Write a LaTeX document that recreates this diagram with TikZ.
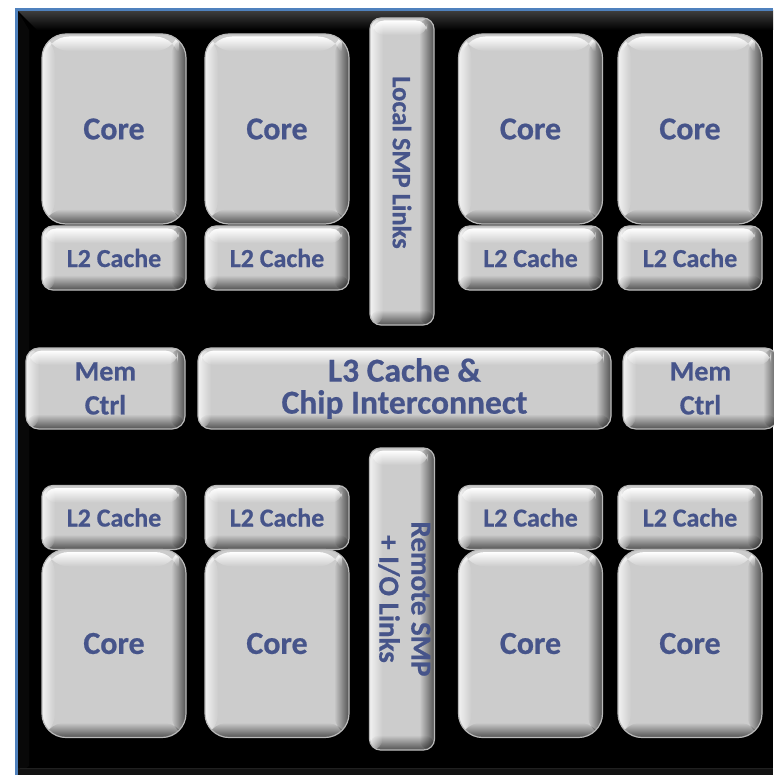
\documentclass[tikz,border=0pt]{standalone}
\usepackage{fontspec}
\setmainfont{Carlito}[BoldFeatures={FakeBold=0.6}]
\usetikzlibrary{fadings}
\definecolor{txt}{RGB}{70,84,138}
\definecolor{face}{RGB}{204,204,204}
\definecolor{frameblue}{RGB}{79,129,189}
\tikzset{
  chip/.style={rectangle, rounded corners=#1, fill=face, draw=gray!55, line width=1.2pt, inner sep=0pt,
    text=txt, font=\bfseries, align=center,
    path picture={
      \coordinate (pa) at (path picture bounding box.north west);
      \coordinate (pb) at (path picture bounding box.south east);
      \coordinate (pc) at (path picture bounding box.north east);
      \coordinate (pd) at (path picture bounding box.south west);
      \fill[black, opacity=.6, path fading=west] ([xshift=-15pt]pc) rectangle (pb);
      \fill[black, opacity=.6, path fading=north] ([yshift=15pt]pd) rectangle (pb);
      \fill[white, opacity=.75, path fading=east] (pa) rectangle ([xshift=13pt]pd);
      \fill[white, rounded corners=#1, path fading=south] ([shift={(3pt,-2.5pt)}]pa) rectangle ([shift={(-7pt,-17pt)}]pc);
    }},
  core/.style={chip=24pt, minimum width=144pt, minimum height=190pt, font=\bfseries\fontsize{32}{36}\selectfont},
  ltwo/.style={chip=11pt, minimum width=144pt, minimum height=64pt, font=\bfseries\fontsize{26}{30}\selectfont},
  mem/.style={chip=13pt, minimum height=81pt, font=\bfseries\fontsize{28}{34}\selectfont},
  link/.style={chip=11pt, minimum width=64pt}
}
\begin{document}
\begin{tikzpicture}[x=1pt, y=-1pt]
\useasboundingbox (0,0) rectangle (773,775);
\fill[white] (0,0) rectangle (773,775);
\fill[black] (17,10) rectangle (773,775);
\shade[top color=gray!50!black, bottom color=black] (17,10) -- (773,10) -- (773,30) -- (37,30) -- cycle;
\fill[gray!6!black] (17,10) -- (29,30) -- (29,766) -- (17,775) -- cycle;
\fill[gray!14!black] (17,768) rectangle (773,775);
\draw[gray!25!black, line width=1pt] (20,768) -- (773,768);
\draw[frameblue, line width=2.5pt] (16.3,775) -- (16.3,9.3) -- (773,9.3);

% top row
\node[core] (c1) at (114,129) {Core};
\node[core] (c2) at (277,129) {Core};
\node[core] (c3) at (530.5,129) {Core};
\node[core] (c4) at (690,129) {Core};
\node[ltwo] (l1) at (114,258) {L2 Cache};
\node[ltwo] (l2) at (277,258) {L2 Cache};
\node[ltwo] (l3) at (530.5,258) {L2 Cache};
\node[ltwo] (l4) at (690,258) {L2 Cache};
\node[link, minimum height=307pt, font=\bfseries\fontsize{26.5}{32}\selectfont] (lsmp) at (402,171.5) {\rotatebox{-90}{Local SMP Links\hspace{18pt}}};

% middle row
\node[mem, minimum width=159pt] (mc1) at (105.5,388.5) {Mem\\Ctrl};
\node[chip=13pt, minimum width=413pt, minimum height=81pt, font=\bfseries\fontsize{33.5}{32}\selectfont] (l3c) at (404.5,388.5) {L3 Cache \&\\Chip Interconnect};
\node[mem, minimum width=155pt] (mc2) at (700.5,388.5) {Mem\\Ctrl};

% bottom row
\node[ltwo] (b1) at (114,517.5) {L2 Cache};
\node[ltwo] (b2) at (277,517.5) {L2 Cache};
\node[ltwo] (b3) at (530.5,517.5) {L2 Cache};
\node[ltwo] (b4) at (690,517.5) {L2 Cache};
\node[core, minimum height=188pt] (d1) at (114,643.5) {Core};
\node[core, minimum height=188pt] (d2) at (277,643.5) {Core};
\node[core, minimum height=188pt] (d3) at (530.5,643.5) {Core};
\node[core, minimum height=188pt] (d4) at (690,643.5) {Core};
\node[link, minimum height=302pt, font=\bfseries\fontsize{29}{33}\selectfont] (rsmp) at (402,599) {\rotatebox{-90}{\begin{tabular}{@{}c@{}}Remote SMP\\[-1pt]+ I/O Links\end{tabular}}};
\end{tikzpicture}
\end{document}
